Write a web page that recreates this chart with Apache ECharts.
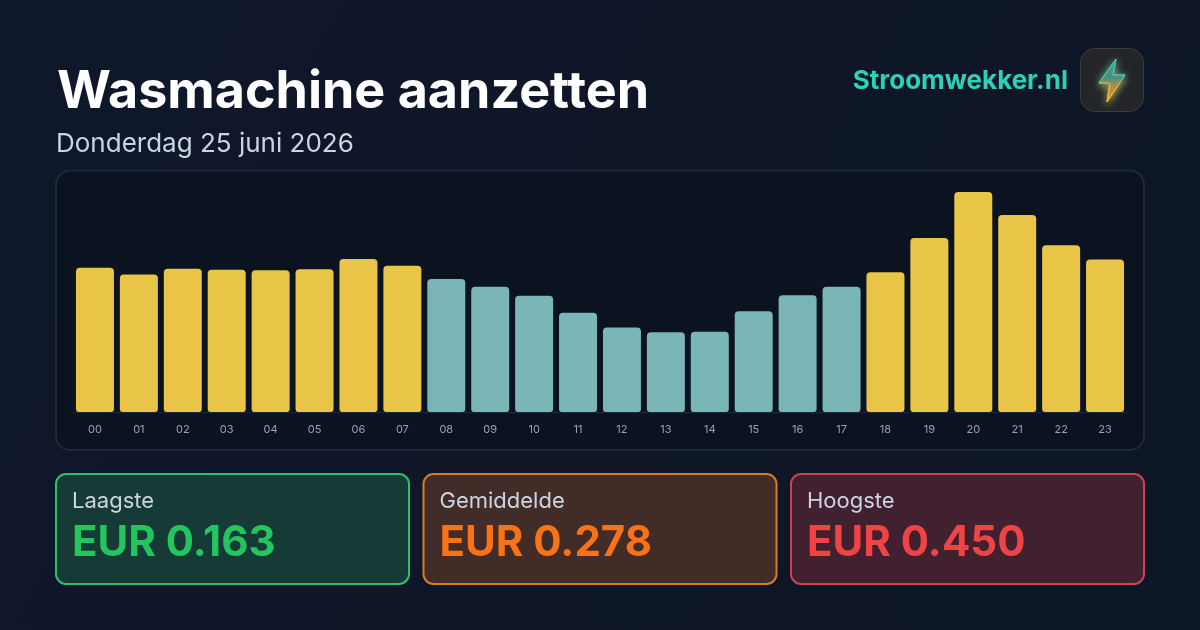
<!DOCTYPE html>
<html><head><meta charset="utf-8">
<style>html,body{margin:0;padding:0;background:#0f172a}#c{width:1200px;height:630px}</style>
<script src="https://cdn.jsdelivr.net/npm/echarts@6/dist/echarts.min.js"></script>
</head><body><div id="c"></div>
<script>
const hours = ['00','01','02','03','04','05','06','07','08','09','10','11','12','13','14','15','16','17','18','19','20','21','22','23'];
const prices = [0.295,0.281,0.293,0.291,0.290,0.292,0.313,0.299,0.272,0.256,0.238,0.203,0.173,0.163,0.164,0.206,0.239,0.256,0.286,0.356,0.450,0.403,0.341,0.312];
const cheap = [8,9,10,11,12,13,14,15,16,17];
const titleText = 'Wasmachine aanzetten';
const subtitleText = 'Donderdag 25 juni 2026';
const brandText = 'Stroomwekker.nl';
const cardLabels = ['Laagste','Gemiddelde','Hoogste'];
const cardValues = ['EUR 0.163','EUR 0.278','EUR 0.450'];
const cardColors = ['#22c55e','#f97316','#ef4444'];
const cardBorders = ['#2fbf6a','#d97a28','#c9444e'];
const cardFills = ['#163a35','#412c28','#412030'];
const cardX = [[56,353],[423.5,353],[791,353]];
const FONT = 'Inter, sans-serif';

const chart = echarts.init(document.getElementById('c'), null, {renderer:'canvas'});
const boltPts = [[1116,59],[1099,83],[1110,83],[1107,102],[1125,75],[1113,75]];
const boltFill = () => new echarts.graphic.LinearGradient(0,0,0,1,[{offset:0,color:'#17a8a2'},{offset:0.45,color:'#3f8f86'},{offset:0.6,color:'#a98a4a'},{offset:1,color:'#e09a35'}]);
const boltLine = () => new echarts.graphic.LinearGradient(0,0,0,1,[{offset:0,color:'#2dd4bf'},{offset:0.5,color:'#4fd0b5'},{offset:0.62,color:'#f5b84a'},{offset:1,color:'#fbbf24'}]);
const graphics = [
  {type:'rect',z:-10,shape:{x:0,y:0,width:1200,height:630},style:{fill:new echarts.graphic.LinearGradient(0,0,1,1,[{offset:0,color:'#0f172a'},{offset:1,color:'#0d1626'}])}},
  {type:'rect',z:-9,shape:{x:56,y:170.5,width:1088,height:279.5,r:14},style:{fill:'#0b1220',stroke:'#1e293b',lineWidth:2}},
  {type:'text',x:57,y:92,style:{text:titleText,font:'700 52px '+FONT,fill:'#ffffff',textVerticalAlign:'middle'}},
  {type:'text',x:56,y:144,style:{text:subtitleText,font:'400 26px '+FONT,fill:'#cbd5e1',textVerticalAlign:'middle'}},
  {type:'text',x:1068,y:81.5,style:{text:brandText,font:'700 26px '+FONT,fill:'#2fcfb8',textAlign:'right',textVerticalAlign:'middle'}},
  {type:'rect',shape:{x:1080.5,y:48.5,width:63,height:63,r:14},style:{fill:'#242528',stroke:'#3a3c40',lineWidth:1}},
  {type:'polygon',shape:{points:boltPts},style:{fill:boltFill(),stroke:boltLine(),lineWidth:1,shadowBlur:9,shadowColor:'rgba(45,212,191,0.55)'}},
  {type:'polygon',shape:{points:boltPts},style:{fill:boltFill(),stroke:boltLine(),lineWidth:1,shadowBlur:7,shadowOffsetY:3,shadowColor:'rgba(240,170,60,0.6)'}}
];
cardLabels.forEach((l,i)=>{
  const [x,w]=cardX[i];
  graphics.push({type:'rect',shape:{x:x,y:474,width:w,height:110,r:10},style:{fill:cardFills[i],stroke:cardBorders[i],lineWidth:2}});
  graphics.push({type:'text',x:x+16,y:501,style:{text:l,font:'400 22px '+FONT,fill:'#cbd5e1',textVerticalAlign:'middle'}});
  graphics.push({type:'text',x:x+16,y:543,style:{text:cardValues[i],font:'700 42px '+FONT,fill:cardColors[i],textVerticalAlign:'middle'}});
});
chart.setOption({
  animation:false,
  backgroundColor:'transparent',
  grid:{left:73,right:73,top:192,bottom:218,containLabel:false},
  xAxis:{type:'category',data:hours,
    axisTick:{show:false},
    axisLine:{show:true,lineStyle:{color:'#1e293b',width:1}},
    axisLabel:{color:'#94a3b8',fontSize:11,fontFamily:FONT,margin:12,interval:0}},
  yAxis:{type:'value',min:0,max:0.45,show:false,splitLine:{show:false}},
  graphic:graphics,
  series:[{type:'bar',barWidth:38,
    data:prices.map((v,i)=>({value:v,itemStyle:{color:cheap.includes(i)?'#7ab6b7':'#e8c547',borderRadius:[4,4,3,3]}}))}]
});
</script></body></html>
